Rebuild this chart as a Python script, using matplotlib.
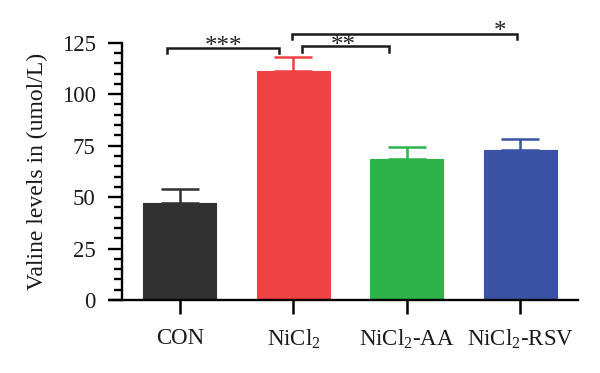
import matplotlib
matplotlib.use("Agg")
import matplotlib.pyplot as plt
from matplotlib.ticker import MultipleLocator

plt.rcParams['font.family'] = ['Liberation Serif', 'DejaVu Serif']
plt.rcParams['mathtext.fontset'] = 'custom'
plt.rcParams['mathtext.rm'] = 'Liberation Serif'
plt.rcParams['mathtext.it'] = 'Liberation Serif:italic'

groups = ['CON', r'NiCl$_\mathrm{2}$', r'NiCl$_\mathrm{2}$-AA', r'NiCl$_\mathrm{2}$-RSV']
means = [47.2, 111.3, 68.6, 73.1]
sds = [6.6, 6.7, 5.8, 5.2]
colors = ['#313131', '#ee4244', '#2db34a', '#3a52a3']

# significance brackets: (x left, x right, height, label, label x, label baseline)
brackets = [
    (-0.11, 0.87, 122.5, '***', 0.38, 119.9),
    (1.08, 1.84, 123.3, '**', 1.44, 120.7),
    (0.99, 2.97, 129.4, '*', 2.82, 127.2),
]

fig = plt.figure(figsize=(6, 3.73), dpi=100)
ax = fig.add_axes([0.1833, 0.1957, 0.78, 0.6898])

x = range(len(groups))
ax.bar(x, means, width=0.643, color=colors, edgecolor=colors, linewidth=0.8, zorder=2)
for i in x:
    ax.errorbar(i, means[i], yerr=[[0], [sds[i]]], color=colors[i], capsize=13.5,
                capthick=1.8, elinewidth=1.8, zorder=1)

ax.set_xlim(-0.616, 3.507)
ax.set_ylim(0, 125)

ax.spines['top'].set_visible(False)
ax.spines['right'].set_visible(False)
ax.spines['left'].set_position(('data', -0.51))
ax.spines['left'].set_linewidth(1.7)
ax.spines['bottom'].set_linewidth(1.7)

ax.yaxis.set_major_locator(MultipleLocator(25))
ax.yaxis.set_minor_locator(MultipleLocator(5))
ax.tick_params(axis='y', which='major', length=10, width=1.7, labelsize=16.5, pad=9,
               labelcolor='#1a1a1a')
ax.tick_params(axis='y', which='minor', length=6, width=1.7)
ax.set_xticks(list(x))
ax.set_xticklabels(groups)
ax.tick_params(axis='x', length=10, width=1.8, labelsize=16.5, pad=10, labelcolor='#1a1a1a')

ax.set_ylabel('Valine levels in (umol/L)', fontsize=17, labelpad=10, color='#1a1a1a')

for x0, x1, h, lab, lx, ly in brackets:
    ax.plot([x0, x0, x1, x1], [h - 2.6, h, h, h - 2.6], color='#1a1a1a', lw=1.8,
            clip_on=False, solid_joinstyle='miter')
    ax.text(lx, ly, lab, ha='center', va='baseline', fontsize=18, color='#222222')

fig.savefig('out.png', dpi=100)
